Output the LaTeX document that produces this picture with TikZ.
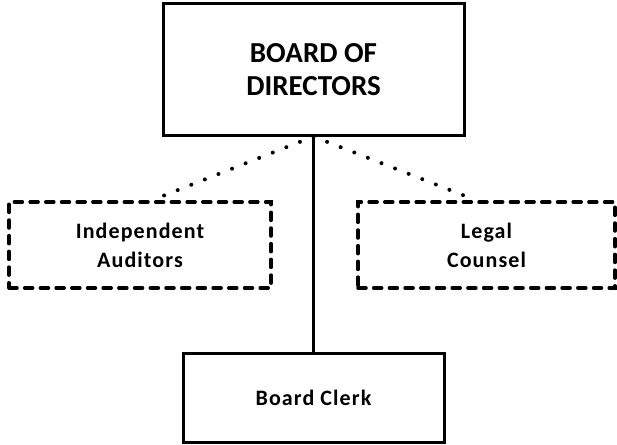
\documentclass[tikz,border=0pt]{standalone}
\usepackage{fontspec}
\setmainfont{Carlito}
\usetikzlibrary{calc}
\newcommand{\smallfont}{\bfseries\fontsize{22}{29}\selectfont\addfontfeatures{LetterSpace=5}}
\tikzset{
  solidbox/.style={draw, line width=3pt, rectangle, inner sep=0pt, align=center, font=\bfseries},
  dashbox/.style={draw, line width=3.5pt, rectangle, inner sep=0pt, align=center, font=\smallfont, dash pattern=on 8pt off 7.7pt, line cap=round},
  link/.style={line width=2.8pt},
  dotlink/.style={line width=4pt, line cap=round, dash pattern=on 0pt off 14.6pt}
}
\begin{document}
\begin{tikzpicture}[x=1pt,y=-1pt]
\useasboundingbox (0,0) rectangle (617,444);
\node[solidbox, minimum width=301pt, minimum height=131pt, font=\bfseries\fontsize{29}{33}\selectfont] (board) at (313.5,69.5) {BOARD OF\\DIRECTORS};
\node[dashbox, minimum width=262pt, minimum height=86pt] (aud) at (140,245) {Independent\\Auditors};
\node[dashbox, minimum width=257pt, minimum height=86pt] (legal) at (486.5,245) {Legal\\Counsel};
\node[solidbox, minimum width=261pt, minimum height=89pt, font=\smallfont] (clerk) at (313.5,397.5) {Board Clerk};
\coordinate (audtop) at ($(aud.north)+(12,0)$);
\coordinate (legtop) at ($(legal.north)+(-10.5,0)$);
\draw[link] (board.south) -- (clerk.north);
\draw[dotlink] (board.south) -- (audtop);
\draw[dotlink] (board.south) -- (legtop);
\end{tikzpicture}
\end{document}
